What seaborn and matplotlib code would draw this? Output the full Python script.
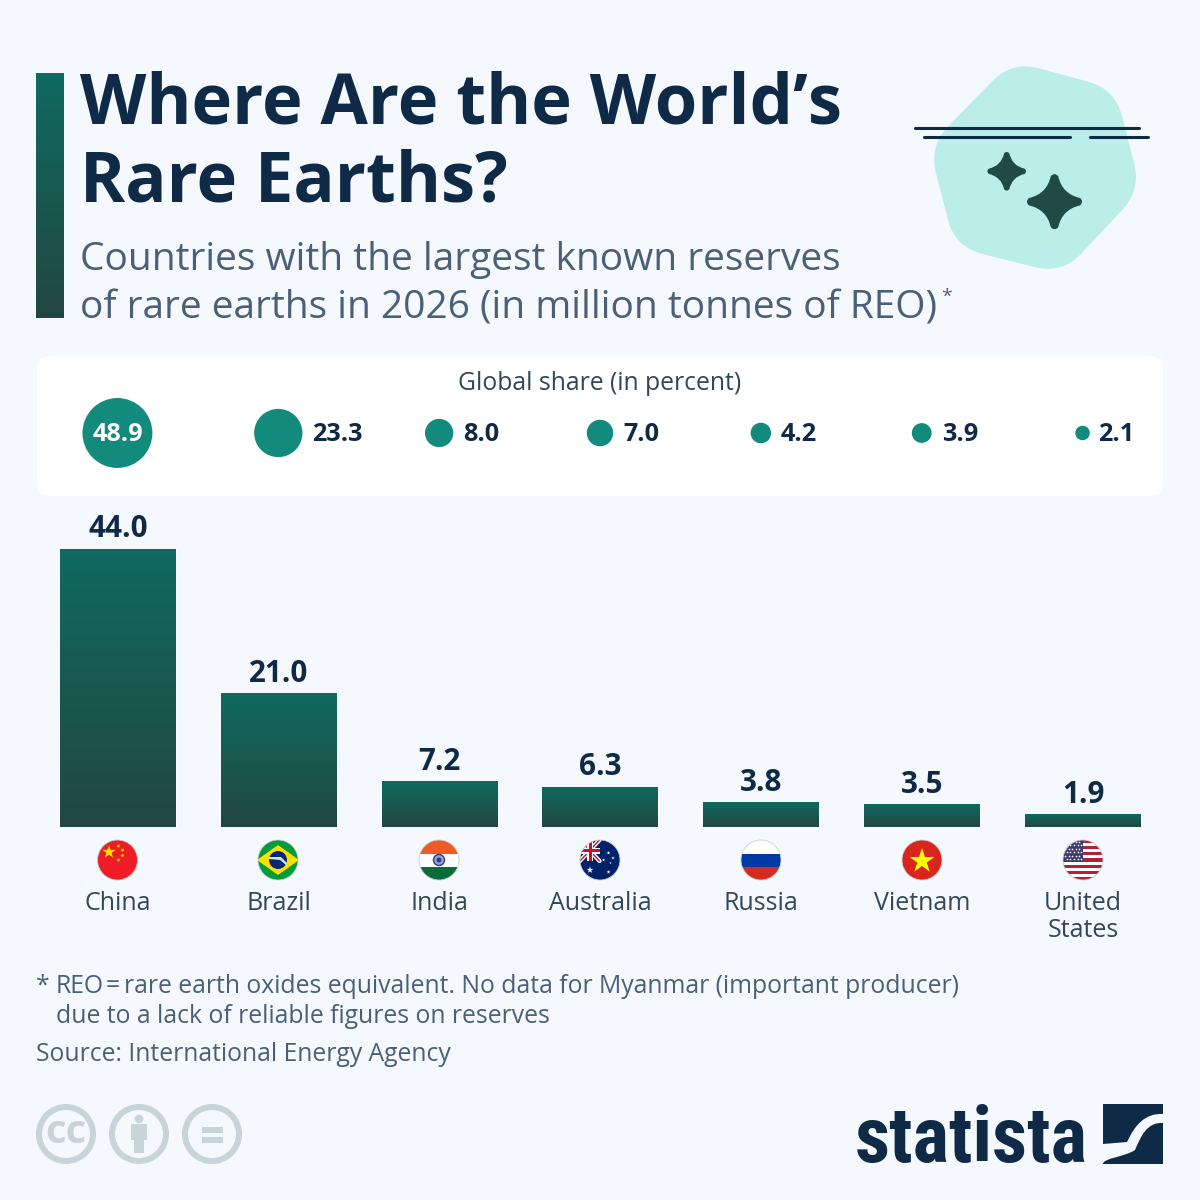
import numpy as np
import pandas as pd
import seaborn as sns
import matplotlib
matplotlib.use("Agg")
import matplotlib.pyplot as plt
from matplotlib import font_manager as fm
from matplotlib.patches import Circle, Rectangle, FancyBboxPatch, PathPatch, Polygon
from matplotlib.path import Path
from matplotlib.colors import LinearSegmentedColormap

countries = ["China", "Brazil", "India", "Australia", "Russia", "Vietnam", "United\nStates"]
reserves = [44.0, 21.0, 7.2, 6.3, 3.8, 3.5, 1.9]
shares = [48.9, 23.3, 8.0, 7.0, 4.2, 3.9, 2.1]

BG = "#f5f8fc"
NAVY = "#0f2a47"
SLATE = "#4a6079"
TEAL = "#128a7c"
FONT = "Open Sans"

sns.set_theme(style="white")
plt.rcParams["font.family"] = [FONT, "DejaVu Sans"]

W = 1200
fig = plt.figure(figsize=(12, 12), dpi=100, facecolor=BG)
PT = 0.72  # points per pixel


def axpx(x0, y0, x1, y1, **kw):
    return fig.add_axes([x0 / W, 1 - y1 / W, (x1 - x0) / W, (y1 - y0) / W], **kw)


# overlay in pixel coordinates, for decoration
bgax = axpx(0, 0, W, W)
bgax.set_xlim(0, W)
bgax.set_ylim(W, 0)
bgax.axis("off")
bgax.set_zorder(0)

grad = LinearSegmentedColormap.from_list("g", ["#0f6a5f", "#234741"])
gradimg = np.linspace(0, 1, 256).reshape(-1, 1)

# title accent bar
bgax.imshow(gradimg, cmap=grad, extent=(36, 64, 318, 73), aspect="auto", zorder=1)
bgax.set_xlim(0, W)
bgax.set_ylim(W, 0)

TS = 49.4
SS = 28.0
bgax.text(80, 123, "Where Are the World’s", fontsize=TS, fontweight="bold", color=NAVY, va="baseline")
bgax.text(80, 201, "Rare Earths?", fontsize=TS, fontweight="bold", color=NAVY, va="baseline")
bgax.text(80, 270, "Countries with the largest known reserves", fontsize=SS, color=SLATE, va="baseline")
bgax.text(80, 318, "of rare earths in 2026 (in million tonnes of REO)", fontsize=SS, color=SLATE, va="baseline")
bgax.text(941, 302, "*", fontsize=14, color=SLATE, va="baseline")


def rounded_poly(pts, r):
    verts, codes = [], []
    n = len(pts)
    pts = [np.array(p, float) for p in pts]
    for i in range(n):
        p, a, b = pts[i], pts[i - 1], pts[(i + 1) % n]
        s = p + (a - p) / np.linalg.norm(a - p) * r
        e = p + (b - p) / np.linalg.norm(b - p) * r
        verts += [s, p, e]
        codes += [Path.MOVETO if i == 0 else Path.LINETO, Path.CURVE3, Path.CURVE3]
    verts.append(verts[0])
    codes.append(Path.CLOSEPOLY)
    return Path(verts, codes)


def sparkle(cx, cy, r):
    k = 0.27 * r
    t = 0.13 * r
    v = [(cx - t, cy - r + t * 0.8), (cx, cy - r - t * 0.3), (cx + t, cy - r + t * 0.8),
         (cx + k, cy - k), (cx + r - t * 0.8, cy - t), (cx + r + t * 0.3, cy), (cx + r - t * 0.8, cy + t),
         (cx + k, cy + k), (cx + t, cy + r - t * 0.8), (cx, cy + r + t * 0.3), (cx - t, cy + r - t * 0.8),
         (cx - k, cy + k), (cx - r + t * 0.8, cy + t), (cx - r - t * 0.3, cy), (cx - r + t * 0.8, cy - t),
         (cx - k, cy - k), (cx - t, cy - r + t * 0.8), (cx - t, cy - r + t * 0.8)]
    c = [Path.MOVETO] + [Path.CURVE3] * 16 + [Path.CLOSEPOLY]
    return Path(v, c)


# icon
bgax.add_patch(PathPatch(rounded_poly([(1012, 61), (1115, 89), (1141, 190), (1062, 274), (955, 247), (929, 146)], 28),
                         fc="#bbede9", ec="none", zorder=1))
for x0, x1, y in [(915, 1139, 127.7), (924, 1070, 137.4), (1090, 1148, 137.4)]:
    bgax.plot([x0, x1], [y, y], color=NAVY, lw=2.2, solid_capstyle="round", zorder=2)
bgax.add_patch(PathPatch(sparkle(1006.7, 171.3, 20), fc="#214a45", ec="none", zorder=2))
bgax.add_patch(PathPatch(sparkle(1054.5, 201.7, 28.5), fc="#214a45", ec="none", zorder=2))

# legend panel
bgax.add_patch(FancyBboxPatch((37 + 14, 356 + 14), 1126 - 28, 140 - 28, boxstyle="round,pad=14,rounding_size=14",
                              fc="white", ec="none", zorder=1))
bgax.text(600, 383.5, "Global share (in percent)", fontsize=17.8, color="#33475c", ha="center", va="center")

# bubble strip, same category scale as bars
bub = axpx(37, 398, 1163, 468)
bub.patch.set_alpha(0)
df = pd.DataFrame({"country": countries, "reserves": reserves, "share": shares})
sns.scatterplot(data=df, x="country", y=[0] * len(df), s=[(2 * 5 * PT) ** 2 * v for v in shares],
                color=TEAL, edgecolor="none", linewidth=0, ax=bub, legend=False, clip_on=False)
bub.set_xlim(-0.5, 6.5)
bub.set_ylim(-1, 1)
bub.axis("off")
for i, v in enumerate(shares):
    if i == 0:
        bub.annotate(f"{v:.1f}", (i, -0.045), xytext=(0.7, 0), textcoords="offset points",
                     color="white", fontsize=18.2, fontweight="bold", ha="center", va="center")
    else:
        off = 5 * np.sqrt(v) + (8 if i == 6 else 10)
        bub.annotate(f"{v:.1f}", (i, -0.045), xytext=(off * PT, 0), textcoords="offset points",
                     color=NAVY, fontsize=18.2, fontweight="bold", ha="left", va="center")

# bars
ax = axpx(37.4, 548.6, 1163.4, 827.3)
ax.patch.set_alpha(0)
sns.barplot(data=df, x="country", y="reserves", width=116 / 161, color="#0f6a5f", ax=ax, saturation=1)
ax.set_xlim(-0.5, 6.5)
ax.set_ylim(0, 44)
for p in ax.patches:
    x, w, h = p.get_x(), p.get_width(), p.get_height()
    ax.imshow(gradimg, cmap=grad, extent=(x, x + w, 0, h), aspect="auto", zorder=3)
ax.set_xlim(-0.5, 6.5)
ax.set_ylim(0, 44)
lbls = ax.bar_label(ax.containers[0], fmt="%.1f", padding=3.6, fontsize=21.3, fontweight="bold", color=NAVY, zorder=5)
ax.set_xlabel("")
ax.set_ylabel("")
ax.set_yticks([])
ax.tick_params(axis="x", length=0, pad=46, labelsize=18, labelcolor="#33475c")
for t in ax.get_xticklabels():
    t.set_linespacing(1.12)
sns.despine(ax=ax, left=True, bottom=True)


# flags
def flag(cx, cy=860, r=20):
    clip = Circle((cx, cy), r, transform=bgax.transData, fc="none", ec="none")
    bgax.add_patch(clip)
    return clip


def add(patch, clip):
    patch.set_zorder(3)
    bgax.add_patch(patch)
    patch.set_clip_path(clip)


def star(cx, cy, r, color, clip, rot=0):
    ang = np.deg2rad(np.arange(10) * 36 - 90 + rot)
    rad = np.where(np.arange(10) % 2 == 0, r, r * 0.382)
    add(Polygon(np.c_[cx + rad * np.cos(ang), cy + rad * np.sin(ang)], fc=color, ec="none"), clip)


def hb(cx, y0, y1, color, clip, x0=None, x1=None):
    x0 = cx - 21 if x0 is None else x0
    x1 = cx + 21 if x1 is None else x1
    add(Rectangle((x0, y0), x1 - x0, y1 - y0, fc=color, ec="none"), clip)


cxs = [117.5, 278, 439, 600, 761, 922, 1083]
# China
c = cxs[0]; k = flag(c)
hb(c, 840, 880, "#ee1c25", k)
star(c - 8.5, 852, 7, "#ffde00", k)
for dx, dy, a in [(1, -4, 20), (5, 0, 45), (5, 5.5, 0), (1, 10, 20)]:
    star(c + dx, 850 + dy, 2.2, "#ffde00", k, a)
# Brazil
c = cxs[1]; k = flag(c)
hb(c, 840, 880, "#009b3a", k)
add(Polygon([(c - 21, 860), (c, 845), (c + 21, 860), (c, 875)], fc="#fedf00", ec="none"), k)
add(Circle((c, 860), 9, fc="#002776", ec="none"), k)
add(Polygon([(c - 9, 857), (c + 3, 857), (c + 9, 863), (c + 8, 865), (c + 2, 860), (c - 9, 859)], fc="#cfe6c8", ec="none"), k)
# India
c = cxs[2]; k = flag(c)
hb(c, 840, 853.5, "#f15a24", k)
hb(c, 853.5, 866.5, "white", k)
hb(c, 866.5, 880, "#0b6b3a", k)
add(Circle((c, 860), 5.5, fc="#9aa3cc", ec="#2b3a85", lw=1), k)
add(Circle((c, 860), 2.5, fc="#2b3a85", ec="none"), k)
# Australia
c = cxs[3]; k = flag(c)
hb(c, 840, 880, "#012169", k)
bgax.plot([c - 20, c - 0.5], [840, 861], color="white", lw=3, zorder=3, clip_path=k)
bgax.plot([c - 20, c - 0.5], [861, 840], color="white", lw=3, zorder=3, clip_path=k)
bgax.plot([c - 20, c - 0.5], [840, 861], color="#c8102e", lw=1, zorder=3, clip_path=k)
bgax.plot([c - 20, c - 0.5], [861, 840], color="#c8102e", lw=1, zorder=3, clip_path=k)
hb(c, 847.5, 853.5, "white", k, c - 21, c - 0.5)
hb(c, 840, 861, "white", k, c - 13, c - 7)
hb(c, 849, 852, "#c8102e", k, c - 21, c - 0.5)
hb(c, 840, 861, "#c8102e", k, c - 11.5, c - 8.5)
star(c - 10, 870, 3.5, "white", k)
for dx, dy, rs in [(8.5, 853, 2), (13, 858, 1.7), (3.5, 860, 1.7), (10.5, 863, 1.2), (8.5, 872, 2)]:
    star(c + dx - 0, dy, rs, "white", k)
# Russia
c = cxs[4]; k = flag(c)
hb(c, 840, 853.5, "white", k)
hb(c, 853.5, 866.5, "#0039a6", k)
hb(c, 866.5, 880, "#d52b1e", k)
# Vietnam
c = cxs[5]; k = flag(c)
hb(c, 840, 880, "#da251d", k)
star(c, 861, 13, "#ffff00", k)
# USA
c = cxs[6]; k = flag(c)
rows = 13
for j in range(rows):
    hb(c, 840 + j * 40 / rows, 840 + (j + 1) * 40 / rows + 0.2, "#b22234" if j % 2 == 0 else "white", k)
hb(c, 840, 861.5, "#3c3b6e", k, c - 21, c)
for j in range(6):
    for i_ in range(5):
        bgax.plot(c - 18 + i_ * 3.6 + (j % 2) * 1.8, 842 + j * 3.4, "o", ms=1.2, color="white", mew=0, zorder=3, clip_path=k)
for cx in cxs:
    bgax.add_patch(Circle((cx, 860), 20, fc="none", ec="#c9ced6", lw=0.6, zorder=4))

# footer
FS = 17.83
bgax.text(36, 993, "*", fontsize=FS, color=SLATE, va="baseline")
bgax.text(56, 993, "REO", fontsize=FS, color=SLATE, va="baseline")
bgax.text(113, 993, "=", fontsize=FS, color=SLATE, va="baseline", ha="center")
bgax.text(124, 993, "rare earth oxides equivalent. No data for Myanmar (important producer)", fontsize=FS, color=SLATE, va="baseline")
bgax.text(56, 1023, "due to a lack of reliable figures on reserves", fontsize=FS, color=SLATE, va="baseline")
bgax.text(36, 1061, "Source: International Energy Agency", fontsize=FS, color=SLATE, va="baseline")

# CC icons
ICON = "#c8d3da"
for cx in (66, 139, 212):
    bgax.add_patch(Circle((cx, 1134), 27, fc="none", ec=ICON, lw=6 * PT, zorder=2))
bgax.text(66, 1132.5, "cc", fontsize=29, fontweight="bold", color=ICON, ha="center", va="center")
bgax.add_patch(Circle((139, 1119), 4.3, fc=ICON, ec="none"))
bgax.add_patch(Rectangle((131, 1124), 16, 16, fc=ICON, ec="none"))
bgax.add_patch(Rectangle((134, 1140), 9.5, 13, fc=ICON, ec="none"))
bgax.add_patch(Rectangle((201.5, 1127), 21.5, 5.5, fc=ICON, ec="none"))
bgax.add_patch(Rectangle((201.5, 1137), 21.5, 5.5, fc=ICON, ec="none"))

# logo: pick a condensed bold face when one is installed, sized to the logo's width
cands = [f.fname for f in fm.fontManager.ttflist
         if any(s in f.fname for s in ("Condensed", "Narrow"))
         and (f.weight in ("bold", 700) or "Bold" in f.fname) and "Italic" not in f.fname and "Oblique" not in f.fname]
cands.sort(key=lambda n: (0 if "Roboto" in n else 1 if "OpenSans" in n else 2 if "Narrow" in n else 3))
fp = fm.FontProperties(fname=cands[0]) if cands else fm.FontProperties(family=FONT, weight="bold")
logo = bgax.text(855, 1162, "statista", fontproperties=fp, fontsize=40, color=NAVY, va="baseline")
fig.canvas.draw()
bw = logo.get_window_extent().width
logo.set_fontsize(40 * 233 / bw)

upper = Path([(1103, 1104), (1163, 1104), (1163, 1114), (1145, 1113), (1135, 1125), (1127, 1142), (1103, 1144), (1103, 1104)],
             [Path.MOVETO, Path.LINETO, Path.LINETO, Path.CURVE4, Path.CURVE4, Path.CURVE4, Path.LINETO, Path.CLOSEPOLY])
lower = Path([(1163, 1123), (1147, 1122), (1141, 1136), (1135, 1150), (1125, 1157), (1103, 1158), (1103, 1164), (1163, 1164), (1163, 1123)],
             [Path.MOVETO, Path.CURVE4, Path.CURVE4, Path.CURVE4, Path.CURVE4, Path.CURVE4, Path.LINETO, Path.LINETO, Path.CLOSEPOLY])
bgax.add_patch(PathPatch(upper, fc=NAVY, ec="none"))
bgax.add_patch(PathPatch(lower, fc=NAVY, ec="none"))

bgax.set_xlim(0, W)
bgax.set_ylim(W, 0)
fig.savefig("out.png", dpi=100, facecolor=BG)
